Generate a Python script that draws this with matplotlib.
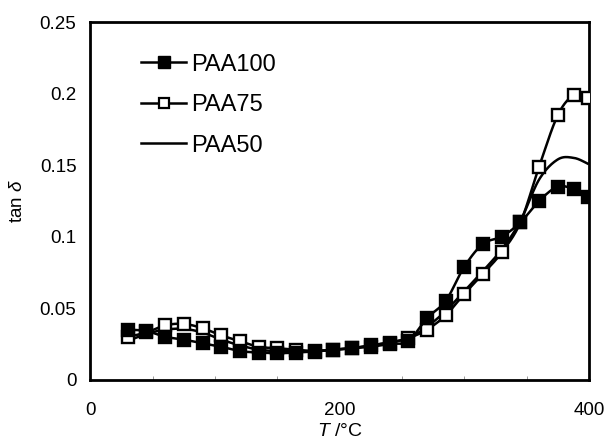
import numpy as np
import matplotlib
matplotlib.use("Agg")
import matplotlib.pyplot as plt

plt.rcParams['font.family'] = ['Liberation Sans', 'DejaVu Sans']
plt.rcParams['mathtext.fontset'] = 'custom'
plt.rcParams['mathtext.rm'] = 'Liberation Sans'
plt.rcParams['mathtext.it'] = 'Liberation Sans:italic'

# Temperature (°C) and loss tangent for each film
temperature = [30, 45, 60, 75, 90, 105, 120, 135, 150, 165, 180, 195, 210,
               225, 240, 255, 270, 285, 300, 315, 330, 345, 360, 375, 388, 399]
paa100 = [0.035, 0.034, 0.030, 0.028, 0.0255, 0.023, 0.020, 0.019, 0.0185,
          0.019, 0.0197, 0.021, 0.022, 0.023, 0.025, 0.027, 0.043, 0.055,
          0.079, 0.095, 0.100, 0.110, 0.125, 0.135, 0.133, 0.128]
paa75 = [0.030, 0.033, 0.038, 0.039, 0.036, 0.031, 0.027, 0.023, 0.022,
         0.021, 0.020, 0.021, 0.022, 0.024, 0.026, 0.029, 0.035, 0.045,
         0.060, 0.074, 0.089, 0.110, 0.149, 0.185, 0.199, 0.197]
paa50 = [0.027, 0.032, 0.035, 0.0355, 0.033, 0.028, 0.024, 0.021, 0.020,
         0.020, 0.020, 0.021, 0.022, 0.024, 0.026, 0.029, 0.037, 0.048,
         0.062, 0.076, 0.091, 0.111, 0.140, 0.154, 0.155, 0.151]

x_ticks = [0, 200, 400]
y_ticks = [0, 0.05, 0.1, 0.15, 0.2, 0.25]
y_tick_labels = ['0', '0.05', '0.1', '0.15', '0.2', '0.25']


def smooth(xs, ys, n=20):
    """Catmull-Rom curve through the points, as spreadsheet smoothed lines draw."""
    p = np.column_stack([xs, ys]).astype(float)
    p = np.vstack([p[0], p, p[-1]])
    out = []
    t = np.linspace(0, 1, n, endpoint=False)
    for i in range(1, len(p) - 2):
        p0, p1, p2, p3 = p[i - 1], p[i], p[i + 1], p[i + 2]
        t2, t3 = t * t, t * t * t
        seg = 0.5 * ((2 * p1)[None, :]
                     + np.outer(t, -p0 + p2)
                     + np.outer(t2, 2 * p0 - 5 * p1 + 4 * p2 - p3)
                     + np.outer(t3, -p0 + 3 * p1 - 3 * p2 + p3))
        out.append(seg)
    out.append(p[-2][None, :])
    c = np.vstack(out)
    return c[:, 0], c[:, 1]


fig = plt.figure(figsize=(6.06, 4.41), dpi=100)
ax = fig.add_axes([0.149, 0.139, 0.823, 0.811])

lw = 1.8
# open squares underneath, filled squares on top
for ys, marker, face, z in [(paa50, None, None, 2),
                            (paa75, 's', 'white', 3),
                            (paa100, 's', 'black', 5)]:
    sx, sy = smooth(temperature, ys)
    ax.plot(sx, sy, color='black', lw=lw, zorder=z)
    if marker:
        ax.plot(temperature, ys, linestyle='none', marker=marker, ms=8.5,
                mfc=face, mec='black', mew=1.7, zorder=z + 0.5)

handles = [
    plt.Line2D([], [], color='black', lw=lw, marker='s', ms=8, mfc='black', mec='black'),
    plt.Line2D([], [], color='black', lw=lw, marker='s', ms=6.5, mfc='white', mec='black', mew=1.6),
    plt.Line2D([], [], color='black', lw=lw),
]
ax.legend(handles, ['PAA100', 'PAA75', 'PAA50'], loc='upper left',
          bbox_to_anchor=(0.06, 0.971), frameon=False, fontsize=17,
          handlelength=1.9, handletextpad=0.2, labelspacing=0.78)

ax.set_xlim(0, 400)
ax.set_ylim(0, 0.25)
ax.set_xticks(x_ticks)
ax.set_yticks(y_ticks)
ax.set_yticklabels(y_tick_labels)
ax.set_xticks(np.arange(0, 401, 50), minor=True)
ax.tick_params(axis='y', which='major', labelsize=13.5, length=0, pad=10)
ax.tick_params(axis='x', which='major', labelsize=13.5, length=0, pad=16)
ax.tick_params(axis='x', which='minor', direction='in', length=3, width=0.6, color='#888888')
ax.tick_params(axis='y', which='minor', length=0)
for s in ax.spines.values():
    s.set_linewidth(2)

ax.set_xlabel(r'$T$ /°C', fontsize=14, labelpad=3)
ax.set_ylabel(r'tan $\it{\delta}$', fontsize=13.5, labelpad=10)

fig.savefig('out.png', dpi=100)
